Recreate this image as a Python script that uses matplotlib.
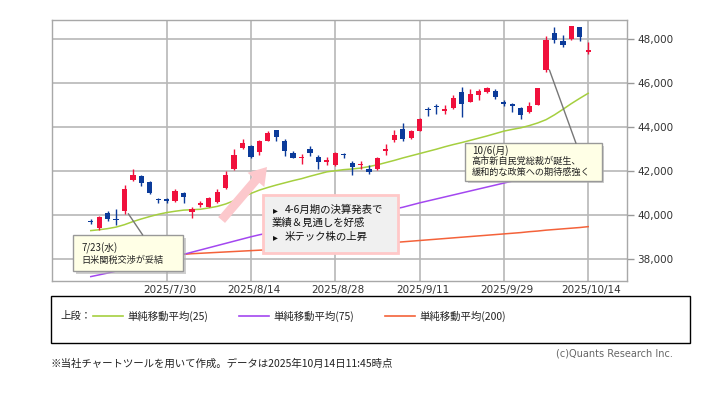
import numpy as np
import matplotlib.pyplot as plt
from matplotlib.patches import Rectangle, FancyArrow, ConnectionPatch
from matplotlib.transforms import ScaledTranslation

JP = ['Noto Sans CJK JP', 'DejaVu Sans']
plt.rcParams['font.family'] = ['DejaVu Sans']

# --- data ---
dates = ['7/16', '7/17', '7/18', '7/22', '7/23', '7/24', '7/25', '7/28', '7/29', '7/30',
         '7/31', '8/1', '8/4', '8/5', '8/6', '8/7', '8/8', '8/12', '8/13', '8/14',
         '8/15', '8/18', '8/19', '8/20', '8/21', '8/22', '8/25', '8/26', '8/27', '8/28',
         '8/29', '9/1', '9/2', '9/3', '9/4', '9/5', '9/8', '9/9', '9/10', '9/11',
         '9/12', '9/16', '9/17', '9/18', '9/19', '9/22', '9/24', '9/25', '9/26', '9/29',
         '9/30', '10/1', '10/2', '10/3', '10/6', '10/7', '10/8', '10/9', '10/10', '10/14']
opens = [39720, 39410, 40091, 39800, 40164, 41591, 41773, 41514, 40714, 40700,
         40650, 41014, 40120, 40455, 40378, 40605, 41214, 42078, 43060, 43137,
         42878, 43378, 43864, 43378, 42805, 42580, 42987, 42650, 42423, 42273,
         42760, 42378, 42273, 42078, 42078, 42910, 43410, 43896, 43487, 43832,
         44805, 44923, 44741, 44850, 45605, 45150, 45455, 45605, 45637, 45137,
         45032, 44850, 44696, 45000, 46591, 48259, 47909, 47986, 48532, 47423]
highs = [39800, 39950, 40164, 40290, 41377, 42078, 41818, 41560, 40787, 40787,
         41168, 41059, 40378, 40637, 40819, 41168, 42014, 42987, 43441, 43182,
         43410, 43832, 43876, 43441, 42910, 42760, 43150, 42728, 42650, 42864,
         42820, 42455, 42455, 42273, 42623, 43228, 43864, 44196, 43864, 44423,
         44895, 45032, 45000, 45455, 45832, 45727, 45714, 45832, 45714, 45227,
         45105, 44896, 45150, 45780, 48136, 48532, 48182, 48605, 48559, 47877]
lows = [39570, 39300, 39741, 39560, 40059, 41560, 41332, 40941, 40532, 40532,
        40605, 40560, 39850, 40378, 40350, 40560, 41182, 42046, 42987, 42605,
        42730, 43364, 43364, 42696, 42578, 42305, 42696, 42091, 42273, 42241,
        42590, 41818, 42091, 41850, 42046, 42728, 43332, 43378, 43450, 43818,
        44514, 44591, 44591, 44805, 44468, 45123, 45227, 45560, 45259, 44955,
        44696, 44350, 44650, 44990, 46514, 47832, 47650, 47955, 47923, 47305]
closes = [39680, 39900, 39818, 39774, 41171, 41826, 41456, 40998, 40674, 40654,
          41069, 40799, 40290, 40549, 40794, 41059, 41820, 42718, 43274, 42649,
          43378, 43714, 43546, 42888, 42610, 42633, 42807, 42394, 42520, 42829,
          42718, 42188, 42310, 41938, 42580, 43018, 43643, 43459, 43837, 44372,
          44768, 44902, 44790, 45303, 45045, 45493, 45630, 45754, 45354, 45043,
          44932, 44550, 44936, 45769, 47944, 47950, 47734, 48580, 48088, 47480]

sma25 = [39290, 39330, 39380, 39450, 39560, 39700, 39820, 39930, 40030, 40110,
         40170, 40220, 40240, 40260, 40320, 40390, 40500, 40650, 40820, 40980,
         41130, 41250, 41360, 41460, 41560, 41650, 41760, 41860, 41960, 42010,
         42060, 42090, 42130, 42200, 42280, 42380, 42480, 42590, 42690, 42790,
         42890, 42990, 43100, 43200, 43290, 43390, 43490, 43590, 43700, 43810,
         43890, 43960, 44060, 44180, 44330, 44550, 44800, 45060, 45300, 45530]
sma75 = [37200, 37280, 37360, 37450, 37540, 37640, 37730, 37830, 37930, 38020,
         38120, 38210, 38310, 38410, 38510, 38610, 38710, 38810, 38910, 39010,
         39100, 39180, 39250, 39320, 39390, 39460, 39530, 39600, 39670, 39740,
         39810, 39880, 39950, 40030, 40110, 40190, 40270, 40350, 40450, 40550,
         40640, 40730, 40820, 40910, 41000, 41090, 41180, 41270, 41360, 41450,
         41540, 41630, 41720, 41810, 41910, 42010, 42110, 42210, 42300, 42390]
sma200 = [37990, 38010, 38030, 38050, 38070, 38090, 38110, 38130, 38150, 38170,
          38190, 38210, 38240, 38260, 38280, 38300, 38320, 38340, 38360, 38380,
          38400, 38420, 38440, 38460, 38480, 38500, 38530, 38550, 38570, 38600,
          38620, 38640, 38660, 38690, 38710, 38730, 38750, 38780, 38810, 38840,
          38870, 38900, 38930, 38960, 38990, 39020, 39050, 39080, 39110, 39140,
          39170, 39200, 39240, 39270, 39310, 39340, 39370, 39400, 39430, 39470]

tick_dates = ['7/30', '8/14', '8/28', '9/11', '9/29', '10/14']
tick_labels = ['2025/' + d for d in tick_dates]
y_ticks = [38000, 40000, 42000, 44000, 46000, 48000]

RED = '#f0103c'
BLUE = '#0b3b9a'
C25, C75, C200 = '#a5cf3f', '#a347f0', '#f4623a'

W, H = 709, 395
fig = plt.figure(figsize=(W / 100, H / 100), dpi=100)


def fx(px):
    return px / W


def fy(py):
    return 1 - py / H


ax = fig.add_axes([fx(52), fy(281), fx(627.3) - fx(52), fy(20) - fy(281)])

x = np.arange(len(dates))
o = np.array(opens)
c = np.array(closes)
cols = np.where(c >= o, RED, BLUE)

ax.plot(x, sma200, color=C200, lw=1.1, zorder=2)
ax.plot(x, sma75, color=C75, lw=1.1, zorder=2)
ax.plot(x, sma25, color=C25, lw=1.1, zorder=2)

ax.vlines(x, lows, highs, color=cols, lw=1, zorder=3)
ax.bar(x, np.maximum(np.abs(c - o), 60), bottom=np.minimum(o, c), width=0.62,
       color=cols, linewidth=0, zorder=4)

ax.set_xlim(-4.6, 63.64)
ax.set_ylim(37000, 48860)
ax.set_xticks([dates.index(d) for d in tick_dates])
ax.set_xticklabels(tick_labels)
ax.set_yticks(y_ticks)
ax.set_yticklabels([f'{v:,}' for v in y_ticks])
ax.yaxis.tick_right()
ax.grid(True, color='#b8b8b8', lw=1.2, zorder=0)
ax.tick_params(axis='x', length=0, pad=3, labelsize=7.5, colors='#333333')
ax.tick_params(axis='y', length=5, width=1, color='#999999', pad=2,
               labelsize=7.5, labelcolor='#333333')
for lab in ax.get_xticklabels():
    lab.set_transform(lab.get_transform() + ScaledTranslation(0.03, 0, fig.dpi_scale_trans))
for s in ax.spines.values():
    s.set_color('#a8a8a8')
    s.set_linewidth(1)

# overlay in pixel coordinates for the notes
ov = fig.add_axes([0, 0, 1, 1])
ov.set_xlim(0, W)
ov.set_ylim(H, 0)
ov.axis('off')
ov.set_zorder(5)


def note_box(x0, y0, x1, y1, fc, ec, lw=1, shadow=True):
    if shadow:
        ov.add_patch(Rectangle((x0 + 2.5, y0 + 2.5), x1 - x0, y1 - y0,
                               fc='#b0b0b0', ec='none', alpha=0.6))
    ov.add_patch(Rectangle((x0, y0), x1 - x0, y1 - y0, fc=fc, ec=ec, lw=lw))


# 7/23 note
note_box(73.3, 235, 183.3, 271, '#ffffe6', '#999999')
ov.text(81.7, 248.3, '7/23(水)', family=JP, fontsize=7, va='center', color='#222222')
ov.text(81.7, 260, '日米関税交渉が妥結', family=JP, fontsize=6.6, va='center', color='#222222')
ov.add_artist(ConnectionPatch((4.45, lows[4]), (142.7, 235), ax.transData, ov.transData,
                              color='#777777', lw=1))

# big pink arrow
ov.add_patch(FancyArrow(221.6, 220, 45.4, -53, width=9, head_width=22, head_length=17,
                        length_includes_head=True, fc='#fcc8cc', ec='none'))

# earnings note
note_box(263.3, 195, 398.3, 253.3, '#f0f0f0', '#ffc8c8', lw=2, shadow=False)
ov.text(272.7, 210, '▸', fontsize=7, va='center', color='#111111')
ov.text(285, 210, '4-6月期の決算発表で', family=JP, fontsize=7.5, va='center', color='#111111')
ov.text(271.7, 223.3, '業績＆見通しを好感', family=JP, fontsize=7.5, va='center', color='#111111')
ov.text(272.7, 236.7, '▸', fontsize=7, va='center', color='#111111')
ov.text(285, 236.7, '米テック株の上昇', family=JP, fontsize=7.5, va='center', color='#111111')

# 10/6 note
note_box(465, 143.3, 601.7, 180.7, '#ffffe6', '#999999')
ov.text(471.7, 151, '10/6(月)', family=JP, fontsize=7, va='center', color='#222222')
ov.text(471.7, 161.5, '高市新自民党総裁が誕生、', family=JP, fontsize=6.6, va='center', color='#222222')
ov.text(471.7, 172, '緩和的な政策への期待感強く', family=JP, fontsize=6.6, va='center', color='#222222')
ov.add_artist(ConnectionPatch((54.4, opens[54]), (576, 143.3), ax.transData, ov.transData,
                              color='#777777', lw=1))

# legend panel
ov.add_patch(Rectangle((51.4, 295.7), 638.6, 47.3, fc='white', ec='black', lw=1))
ov.text(60, 316, '上段：', family=JP, fontsize=7.5, va='center', color='#222222')
for x0, col, lab in [(93, C25, '単純移動平均(25)'), (239, C75, '単純移動平均(75)'),
                     (385, C200, '単純移動平均(200)')]:
    ov.plot([x0, x0 + 29.5], [316, 316], color=col, lw=1.2)
    ov.text(x0 + 34.5, 316, lab, family=JP, fontsize=7.5, va='center', color='#222222')

ov.text(673, 353, '(c)Quants Research Inc.', fontsize=7, ha='right', va='center', color='#666666')
ov.text(50, 364, '※当社チャートツールを用いて作成。データは2025年10月14日11:45時点',
        family=JP, fontsize=7.5, va='center', color='#222222')

fig.savefig('out.png', dpi=100)
